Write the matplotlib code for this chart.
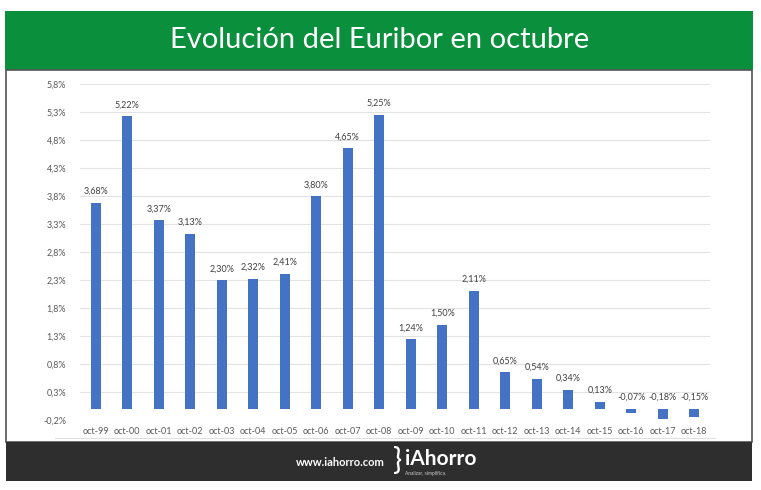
import matplotlib.pyplot as plt
from matplotlib.patches import Rectangle
from matplotlib.ticker import FuncFormatter

plt.rcParams['font.family'] = ['Lato', 'DejaVu Sans']

# Datos
meses = ['oct-99', 'oct-00', 'oct-01', 'oct-02', 'oct-03', 'oct-04', 'oct-05',
         'oct-06', 'oct-07', 'oct-08', 'oct-09', 'oct-10', 'oct-11', 'oct-12',
         'oct-13', 'oct-14', 'oct-15', 'oct-16', 'oct-17', 'oct-18']
euribor = [3.68, 5.22, 3.37, 3.13, 2.30, 2.32, 2.41, 3.80, 4.65, 5.25,
           1.24, 1.50, 2.11, 0.65, 0.54, 0.34, 0.13, -0.07, -0.18, -0.15]
y_ticks = [-0.2, 0.3, 0.8, 1.3, 1.8, 2.3, 2.8, 3.3, 3.8, 4.3, 4.8, 5.3, 5.8]

W, H = 761, 490
fig = plt.figure(figsize=(W / 100, H / 100), dpi=100)
fig.patch.set_facecolor('white')


def fx(px):
    return px / W


def fy(py):
    return 1 - py / H


# Banda verde del título
fig.add_artist(Rectangle((fx(5), fy(70)), fx(748), 59 / H, transform=fig.transFigure,
                         facecolor='#0a8f3c', edgecolor='none'))
fig.text(fx(380), fy(40), 'Evolución del Euribor en octubre', color='white',
         fontsize=21, ha='center', va='center')

# Marco del panel
fig.add_artist(Rectangle((fx(6), fy(442)), fx(746), 372 / H, transform=fig.transFigure,
                         facecolor='none', edgecolor='#555555', linewidth=1.2))

# Pie oscuro
fig.add_artist(Rectangle((fx(6), fy(481)), fx(746), 39 / H, transform=fig.transFigure,
                         facecolor='#2e2e2e', edgecolor='none'))
fig.text(fx(385), fy(462), 'www.iahorro.com', color='white', fontsize=8,
         fontweight='bold', ha='right', va='center')
fig.text(fx(393), fy(461), '}', color='white', fontsize=22, ha='left', va='center')
fig.text(fx(405), fy(459), 'iAhorro', color='white', fontsize=15,
         fontweight='bold', ha='left', va='center')
fig.text(fx(405), fy(473), 'Analizar, simplifica.', color='#cccccc', fontsize=3.5,
         ha='left', va='center')

# Línea bajo las etiquetas
fig.add_artist(plt.Line2D([fx(55), fx(715)], [fy(438), fy(438)], transform=fig.transFigure,
                          color='#e0e0e0', linewidth=0.8))

# Gráfico
ax = fig.add_axes([fx(80), fy(420), fx(630), 336 / H])
ax.set_zorder(5)
x = range(len(meses))
ax.bar(x, euribor, width=0.32, color='#4472c4', zorder=3)
for i, v in enumerate(euribor):
    ytxt = max(v, 0) + 0.12
    ax.text(i, ytxt, f'{v:.2f}%'.replace('.', ','), ha='center', va='bottom',
            fontsize=6.5, color='#404040')

ax.set_ylim(-0.2, 5.8)
ax.set_xlim(-0.5, len(meses) - 0.5)
ax.set_yticks(y_ticks)
ax.yaxis.set_major_formatter(FuncFormatter(lambda v, p: f'{v:.1f}%'.replace('.', ',')))
ax.set_xticks(list(x))
ax.set_xticklabels(meses)
ax.tick_params(axis='both', length=0, labelsize=6.5, colors='#595959')
ax.tick_params(axis='x', pad=5)
ax.tick_params(axis='y', pad=10)
ax.grid(axis='y', color='#e3e3e3', linewidth=0.8, zorder=0)
for s in ax.spines.values():
    s.set_visible(False)
ax.set_facecolor('none')

fig.savefig('out.png', dpi=100)
